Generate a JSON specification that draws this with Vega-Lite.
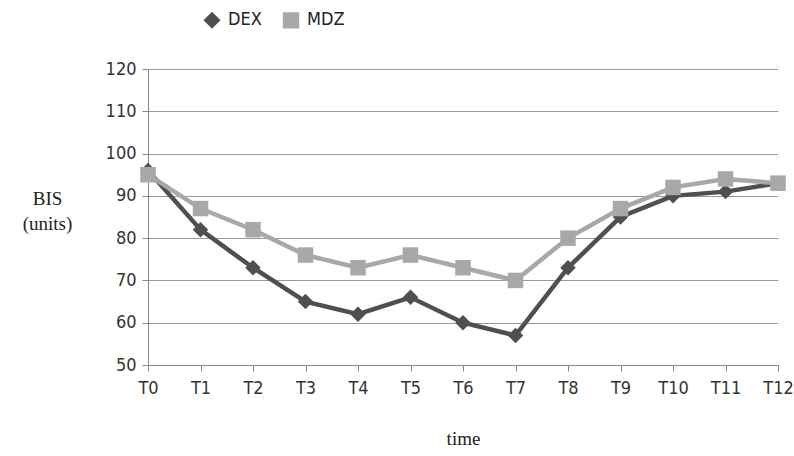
{
  "$schema": "https://vega.github.io/schema/vega-lite/v6.json",
  "width": 630,
  "height": 296,
  "autosize": {"type": "none"},
  "padding": {"left": 148, "top": 69, "right": 16, "bottom": 91},
  "background": "white",
  "data": {"values": [
    {"t": "T0", "g": "DEX", "v": 96}, {"t": "T1", "g": "DEX", "v": 82}, {"t": "T2", "g": "DEX", "v": 73},
    {"t": "T3", "g": "DEX", "v": 65}, {"t": "T4", "g": "DEX", "v": 62}, {"t": "T5", "g": "DEX", "v": 66},
    {"t": "T6", "g": "DEX", "v": 60}, {"t": "T7", "g": "DEX", "v": 57}, {"t": "T8", "g": "DEX", "v": 73},
    {"t": "T9", "g": "DEX", "v": 85}, {"t": "T10", "g": "DEX", "v": 90}, {"t": "T11", "g": "DEX", "v": 91},
    {"t": "T12", "g": "DEX", "v": 93},
    {"t": "T0", "g": "MDZ", "v": 95}, {"t": "T1", "g": "MDZ", "v": 87}, {"t": "T2", "g": "MDZ", "v": 82},
    {"t": "T3", "g": "MDZ", "v": 76}, {"t": "T4", "g": "MDZ", "v": 73}, {"t": "T5", "g": "MDZ", "v": 76},
    {"t": "T6", "g": "MDZ", "v": 73}, {"t": "T7", "g": "MDZ", "v": 70}, {"t": "T8", "g": "MDZ", "v": 80},
    {"t": "T9", "g": "MDZ", "v": 87}, {"t": "T10", "g": "MDZ", "v": 92}, {"t": "T11", "g": "MDZ", "v": 94},
    {"t": "T12", "g": "MDZ", "v": 93}
  ]},
  "config": {
    "view": {"stroke": null},
    "font": "Liberation Sans",
    "axis": {"labelFont": "DejaVu Sans Condensed", "labelFontSize": 18, "labelColor": "#333", "domainColor": "#888", "tickColor": "#888", "gridColor": "#999", "titleFont": "Liberation Serif", "titleFontWeight": "normal", "titleFontSize": 19, "titleColor": "#222"}
  },
  "encoding": {
    "x": {"field": "t", "type": "ordinal", "sort": null, "scale": {"type": "point", "padding": 0},
      "axis": {"title": "time", "labelAngle": 0, "labelPadding": 8, "tickSize": 6, "grid": false, "titlePadding": 32}},
    "y": {"field": "v", "type": "quantitative", "scale": {"domain": [50, 120], "nice": false},
      "axis": {"title": ["BIS", "(units)"], "values": [50, 60, 70, 80, 90, 100, 110, 120], "tickSize": 6, "labelPadding": 6, "grid": true,
        "titleAngle": 0, "titleX": -101, "titleY": 120, "titleAlign": "center", "titleBaseline": "top", "titleLineHeight": 25}},
    "color": {"field": "g", "type": "nominal", "scale": {"domain": ["DEX", "MDZ"], "range": ["#4f4f4f", "#a8a8a8"]},
      "legend": {"orient": "none", "legendX": 55, "legendY": -58, "direction": "horizontal", "title": null, "labelFont": "DejaVu Sans Condensed", "labelFontSize": 18, "labelColor": "#222", "symbolSize": 220, "columnPadding": 18, "labelOffset": 7}}
  },
  "layer": [
    {"mark": {"type": "line", "strokeWidth": 4.5}},
    {"mark": {"type": "point", "filled": true, "opacity": 1, "size": 240},
      "encoding": {"shape": {"field": "g", "type": "nominal", "scale": {"domain": ["DEX", "MDZ"], "range": ["diamond", "square"]}, "legend": {"orient": "none", "legendX": 55, "legendY": -58, "direction": "horizontal", "title": null, "labelFont": "DejaVu Sans Condensed", "labelFontSize": 18, "labelColor": "#222", "symbolSize": 220, "columnPadding": 18, "labelOffset": 7}}}}
  ]
}
